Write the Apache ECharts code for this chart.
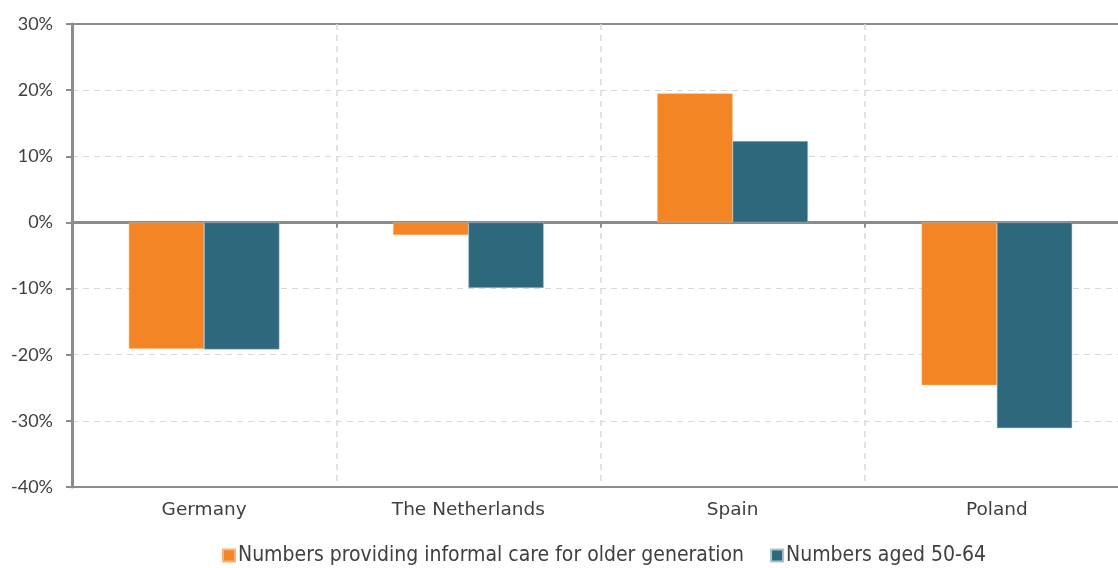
<!DOCTYPE html>
<html>
<head>
<meta charset="utf-8">
<script src="https://cdn.jsdelivr.net/npm/echarts@6/dist/echarts.min.js"></script>
<style>
  html, body { margin: 0; padding: 0; background: #ffffff; overflow: hidden; }
  #chart { width: 1140px; height: 568px; }
</style>
</head>
<body>
<div id="chart"></div>
<script>
var categories = ['Germany', 'The Netherlands', 'Spain', 'Poland'];
var seriesNames = ['Numbers providing informal care for older generation', 'Numbers aged 50-64'];
var informalCare = [-19.1, -1.9, 19.5, -24.6];
var aged5064 = [-19.2, -9.9, 12.3, -31.1];
var yTicks = { min: -40, max: 30, interval: 10 };

var axisGray = '#8c8c8c';
var chart = echarts.init(document.getElementById('chart'));
chart.setOption({
  animation: false,
  backgroundColor: '#ffffff',
  grid: {
    left: 72, top: 24, right: 11, bottom: 81,
    show: true, borderColor: axisGray, borderWidth: 2, backgroundColor: 'transparent'
  },
  legend: {
    top: 545, left: 222, padding: 0,
    itemWidth: 12, itemHeight: 12, itemGap: 26,
    icon: 'rect',
    textStyle: { fontFamily: 'DejaVu Sans Condensed', fontSize: 21, color: '#404040', padding: [0, 0, 0, -2] },
    data: seriesNames
  },
  xAxis: [
    {
      type: 'category',
      data: categories,
      position: 'bottom',
      axisLine: { onZero: false, show: true, lineStyle: { color: axisGray, width: 2 } },
      axisTick: { show: false },
      axisLabel: { fontFamily: 'DejaVu Sans', fontSize: 18.5, color: '#404040', margin: 14 },
      splitLine: { show: true, lineStyle: { color: '#d9d9d9', type: [6, 5], width: 1.5 } }
    },
    {
      type: 'category',
      data: categories,
      position: 'bottom',
      axisLine: { onZero: true, show: true, lineStyle: { color: axisGray, width: 3 } },
      axisTick: { show: true, inside: false, length: 5, lineStyle: { color: axisGray, width: 2 } },
      axisLabel: { show: false },
      splitLine: { show: false }
    }
  ],
  yAxis: {
    type: 'value',
    min: yTicks.min, max: yTicks.max, interval: yTicks.interval,
    axisLine: { show: true, lineStyle: { color: axisGray, width: 3 } },
    axisTick: { show: true, length: 6, lineStyle: { color: axisGray, width: 2 } },
    axisLabel: { formatter: '{value}%', fontFamily: 'Lato', fontSize: 18, color: '#404040', margin: 19 },
    splitLine: { show: true, showMinLine: false, showMaxLine: false, lineStyle: { color: '#d9d9d9', type: [6, 5], width: 1 } }
  },
  series: [
    {
      name: seriesNames[0], type: 'bar', data: informalCare,
      barGap: 0, barCategoryGap: '43%',
      itemStyle: { color: '#f48524', borderColor: '#f9b27a', borderWidth: 0.5 }
    },
    {
      name: seriesNames[1], type: 'bar', data: aged5064,
      itemStyle: { color: '#2e687c', borderColor: '#a9c3cc', borderWidth: 0.5 }
    }
  ]
});
</script>
</body>
</html>
